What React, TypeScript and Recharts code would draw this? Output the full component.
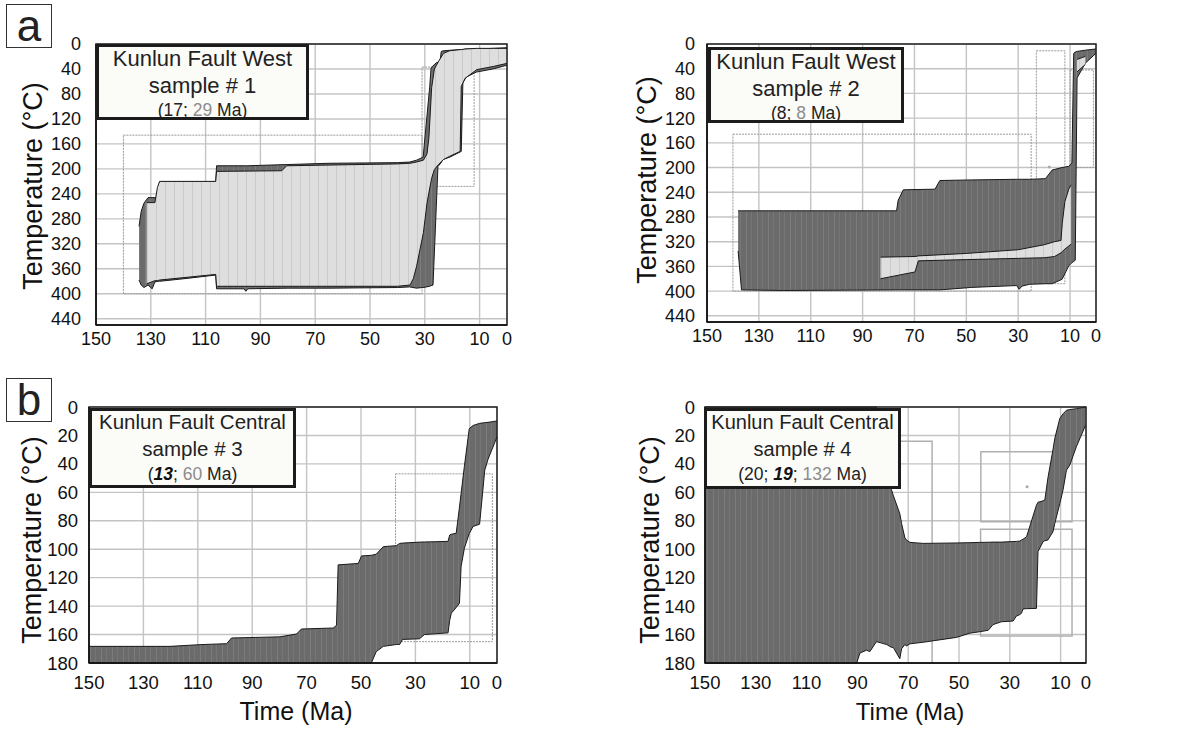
import React from 'react';
import { ComposedChart, Area, XAxis, YAxis, CartesianGrid, ReferenceArea, ReferenceDot } from 'recharts';

// rows are [time (Ma), upper edge (°C), lower edge (°C)]
type Row = [number, number, number];
// boxes are [older Ma, younger Ma, top °C, bottom °C]
type Box = [number, number, number, number];

const FONT = 'Arial, "Liberation Sans", Helvetica, sans-serif';

const timeTicks = [150, 130, 110, 90, 70, 50, 30, 10, 0];
const westTempTicks = [0, 40, 80, 120, 160, 200, 240, 280, 320, 360, 400, 440];
const centralTempTicks = [0, 20, 40, 60, 80, 100, 120, 140, 160, 180];

// sample 1 - acceptable fit envelope
const s1Acceptable: Row[] = [
    [134.3, 292, 378], [133.5, 268, 386], [132.5, 255, 390], [131.0, 246, 386],
    [129.5, 246, 392], [128.5, 246, 381], [127.3, 246, 380], [126.8, 221, 380],
    [116, 221, 375], [106.3, 221, 370], [106.0, 195, 392], [96, 195, 392],
    [95.3, 195, 396], [94.6, 195, 392], [80, 193, 391], [65, 191, 391],
    [40, 190, 390], [35.5, 189, 389], [33, 186, 391], [31, 182, 390],
    [30.6, 181, 390], [28.2, 68, 388], [27.7, 38, 387], [27.0, 35, 386],
    [25.8, 30, 260], [25.2, 29, 196], [24.4, 27, 192], [24.0, 12, 190],
    [23.4, 11, 185], [20.8, 10, 181], [16.7, 9, 172], [16.1, 9, 62],
    [14.9, 8, 53], [11.2, 8, 45], [5.2, 7, 40], [0, 6, 34],
];
// sample 1 - good fit envelope
const s1Good: Row[] = [
    [131.5, 254, 384], [128.5, 254, 379], [127.6, 230, 379], [126.8, 220, 378],
    [106.3, 220, 369], [106.0, 204, 388], [82.2, 203, 388], [80.4, 195, 388],
    [40, 192, 388], [35.4, 191, 386], [34.2, 190, 376], [33, 189, 356],
    [30.5, 186, 302], [29.2, 176, 255], [28.5, 150, 238], [27.5, 70, 215],
    [26.5, 40, 201], [25, 28, 193], [23.2, 15, 185], [21, 11, 180],
    [17.1, 9, 172], [16.7, 9, 68], [15.3, 8, 55], [11, 7, 41],
    [5, 7, 36], [0, 7, 31],
];
const s1Boxes: Box[] = [[140, 31, 146, 400], [31, 12, 37, 228]];

// sample 2
const s2Acceptable: Row[] = [
    [138, 270, 335], [136.7, 270, 398], [120.6, 270, 399], [76.9, 270, 398],
    [76.3, 253, 398], [74.3, 236, 398], [62.1, 235, 398], [60.2, 221, 398],
    [47.9, 220, 394], [30.6, 219, 391], [29.6, 219, 397], [28.6, 219, 392],
    [25.7, 219, 389], [19.5, 218, 388], [16.9, 204, 388], [13.1, 200, 381],
    [10.5, 198, 359], [9.3, 193, 354], [8.6, 15, 352], [8.0, 13, 350],
    [7.3, 12, 55], [4.1, 10, 31], [0, 8, 15],
];
const s2Good: Row[] = [
    [83.1, 345, 380], [69.8, 344, 369], [68.5, 343, 351], [50, 339, 349],
    [30, 333, 347], [20, 325, 346], [16, 320, 344], [13.5, 318, 338],
    [13, 290, 336], [12, 255, 332], [10.5, 235, 327], [9.6, 228, 324],
];
const s2GoodTip: Row[] = [[7.3, 25, 45], [4.1, 20, 33]];
const s2Boxes: Box[] = [[140, 25, 146, 400], [23, 12, 11, 388], [10, 1, 42, 200]];
const s2Points: [number, number][] = [[18, 199]];

// sample 3
const s3Acceptable: Row[] = [
    [150, 168.3, 180], [120.2, 168.3, 180], [109.2, 167.1, 180], [99.4, 166.4, 180],
    [97.6, 162.4, 180], [79.8, 161.6, 180], [73.7, 159.6, 180], [71.9, 156.1, 180],
    [60.2, 155.4, 180], [59, 153.5, 180], [58.4, 111, 180], [51, 110, 180],
    [49.8, 104.7, 180], [46.2, 104.3, 180], [44.4, 103.5, 172], [41.8, 98.2, 168.3],
    [37, 97.5, 167], [35.8, 95.9, 167], [34.7, 95.7, 163.4], [28.5, 95, 163],
    [26.7, 94.9, 160], [18, 94.5, 158.8], [17.4, 90, 150], [16.8, 89.5, 145],
    [15, 88.8, 141], [13.8, 70.4, 137.9], [13.2, 60.8, 112.2], [12, 41.8, 99.3],
    [10.2, 15.2, 89], [8.8, 13, 84], [6.4, 11.5, 82.4], [4.5, 11, 44.4],
    [3.3, 10.8, 36.8], [0, 9.8, 21],
];
const s3Boxes: Box[] = [[37.3, 1.7, 47, 165]];

// sample 4
const s4Acceptable: Row[] = [
    [150, 0, 180], [90.3, 0, 180], [89, 0, 173], [86.4, 0, 171],
    [85.1, 0, 172], [82.5, 0, 165], [80.5, 20, 166], [78.5, 45, 167],
    [76.6, 58, 169], [75.9, 62, 169], [73.3, 75, 177], [72.6, 82, 170],
    [71.3, 92, 167], [70.7, 93.5, 168], [69.3, 95.2, 166.5], [64.1, 95.9, 165.4],
    [51, 95.6, 162], [45.7, 95.4, 159], [41.8, 95.2, 158], [38.5, 95.1, 157],
    [36.6, 95, 153], [33.3, 95, 151], [28.7, 94.6, 150.5], [27.4, 94.5, 147],
    [26.1, 94.3, 146], [25.4, 93.5, 145], [24.8, 93, 142], [23.4, 91.2, 141.8],
    [19.5, 69, 141.6], [18.9, 67, 101.7], [16.9, 66, 94.7], [16.2, 65.4, 94],
    [15, 50, 93.5], [13, 30, 87.7], [12.3, 22.2, 82], [10.3, 8, 67.8],
    [9, 4.7, 58], [7.7, 2.3, 44.4], [6.4, 1.8, 40.9], [3.8, 1.2, 28],
    [0.2, 0, 12.9],
];
const s4Boxes: Box[] = [[150, 60.6, 24, 180], [41.4, 5.5, 31.5, 80.6], [41.5, 5.5, 86, 161]];
const s4Points: [number, number][] = [[23.2, 56]];

const toBand = (rows: Row[]) => rows.map(([t, upper, lower]) => ({ t, band: [upper, lower] }));

interface Band {
    rows: Row[];
    kind: 'dark' | 'light';
}

interface PanelProps {
    id: string;
    left: number;
    top: number;
    width: number;
    height: number;
    marginTop: number;
    marginRight: number;
    yWidth: number;
    xHeight: number;
    yMax: number;
    yTicks: number[];
    fontSize: number;
    yTickMargin: number;
    xTickMargin: number;
    bands: Band[];
    boxes: Box[];
    boxDotted: boolean;
    points?: [number, number][];
}

function Panel(p: PanelProps) {
    const tick = { fontSize: p.fontSize, fill: '#111', fontFamily: FONT };
    return (
        <div style={{ position: 'absolute', left: p.left, top: p.top }}>
            <ComposedChart
                width={p.width}
                height={p.height}
                margin={{ top: p.marginTop, right: p.marginRight, bottom: 0, left: 0 }}
            >
                <defs>
                    <pattern id={`dark-${p.id}`} width="11" height="8" patternUnits="userSpaceOnUse">
                        <rect width="11" height="8" fill="#6b6b6b" />
                        <rect x="2" width="1" height="8" fill="#7c7c7c" />
                        <rect x="7" width="1" height="8" fill="#767676" />
                    </pattern>
                    <pattern id={`light-${p.id}`} width="9" height="8" patternUnits="userSpaceOnUse">
                        <rect width="9" height="8" fill="#dedede" />
                        <rect x="3" width="1" height="8" fill="#cacaca" />
                    </pattern>
                </defs>
                <CartesianGrid stroke="#c4c4c4" strokeWidth={1.4} />
                <XAxis
                    dataKey="t"
                    type="number"
                    domain={[0, 150]}
                    reversed
                    ticks={timeTicks}
                    interval={0}
                    height={p.xHeight}
                    tickSize={4}
                    tickLine={false}
                    tickMargin={p.xTickMargin}
                    axisLine={{ stroke: '#111', strokeWidth: 1.5 }}
                    tick={tick}
                />
                <YAxis
                    type="number"
                    domain={[0, p.yMax]}
                    reversed
                    ticks={p.yTicks}
                    interval={0}
                    width={p.yWidth}
                    tickSize={4}
                    tickLine={false}
                    tickMargin={p.yTickMargin}
                    axisLine={{ stroke: '#111', strokeWidth: 1.5 }}
                    tick={tick}
                />
                {p.boxes.map(([x1, x2, y1, y2], i) => (
                    <ReferenceArea
                        key={`box-${i}`}
                        x1={x1}
                        x2={x2}
                        y1={y1}
                        y2={y2}
                        fill="none"
                        fillOpacity={0}
                        stroke={p.boxDotted ? '#9a9a9a' : '#b0b0b0'}
                        strokeWidth={p.boxDotted ? 1 : 1.5}
                        strokeDasharray={p.boxDotted ? '2 1' : undefined}
                    />
                ))}
                {(p.points || []).map(([x, y], i) => (
                    <ReferenceDot key={`pt-${i}`} x={x} y={y} r={1.5} fill="#aaaaaa" stroke="none" />
                ))}
                {p.bands.map((b, i) => (
                    <Area
                        key={`band-${i}`}
                        data={toBand(b.rows)}
                        dataKey="band"
                        type="linear"
                        fill={`url(#${b.kind}-${p.id})`}
                        fillOpacity={1}
                        stroke="#1a1a1a"
                        strokeWidth={1}
                        dot={false}
                        activeDot={false}
                        isAnimationActive={false}
                    />
                ))}
                <ReferenceArea
                    x1={150}
                    x2={0}
                    y1={0}
                    y2={p.yMax}
                    fill="none"
                    fillOpacity={0}
                    stroke="#222"
                    strokeWidth={1.5}
                />
            </ComposedChart>
        </div>
    );
}

interface InfoProps {
    left: number;
    top: number;
    width: number;
    height: number;
    title: string;
    sample: string;
    size: number;
    children: React.ReactNode;
}

function InfoBox({ left, top, width, height, title, sample, size, children }: InfoProps) {
    const line: React.CSSProperties = {
        position: 'absolute',
        left: 0,
        width: '100%',
        textAlign: 'center',
        lineHeight: 1,
        whiteSpace: 'nowrap',
        color: '#222',
    };
    return (
        <div style={{ position: 'absolute', left, top, width, height, background: '#fbfbf8' }}>
            <div style={{ ...line, top: 4, fontSize: size }}>{title}</div>
            <div style={{ ...line, top: 31, fontSize: size }}>{sample}</div>
            <div style={{ ...line, top: 58, fontSize: 17.5 }}>{children}</div>
            <div
                style={{
                    position: 'absolute',
                    inset: 0,
                    border: '3px solid #1c1c1c',
                }}
            />
        </div>
    );
}

const grey = { color: '#8c8c8c' };
const strong: React.CSSProperties = { fontWeight: 700, fontStyle: 'italic', color: '#111' };

function YTitle({ x, y }: { x: number; y: number }) {
    return (
        <div
            style={{
                position: 'absolute',
                left: x,
                top: y,
                transform: 'translate(-50%, -50%) rotate(-90deg)',
                fontSize: 27,
                lineHeight: 1,
                whiteSpace: 'nowrap',
                color: '#111',
            }}
        >
            Temperature (°C)
        </div>
    );
}

function XTitle({ x, y, size }: { x: number; y: number; size: number }) {
    return (
        <div
            style={{
                position: 'absolute',
                left: x,
                top: y,
                transform: 'translateX(-50%)',
                fontSize: size,
                lineHeight: 1,
                whiteSpace: 'nowrap',
                color: '#111',
            }}
        >
            Time (Ma)
        </div>
    );
}

function Tag({ top, letter }: { top: number; letter: string }) {
    return (
        <div
            style={{
                position: 'absolute',
                left: 6,
                top,
                width: 46,
                height: 44,
                boxSizing: 'border-box',
                border: '1.5px solid #333',
                background: '#fff',
            }}
        >
            <div
                style={{
                    position: 'absolute',
                    left: 0,
                    top: 0,
                    width: '100%',
                    fontSize: 44,
                    lineHeight: '41px',
                    textAlign: 'center',
                    color: '#222',
                }}
            >
                {letter}
            </div>
        </div>
    );
}

export default function App() {
    return (
        <div
            style={{
                position: 'absolute',
                left: 0,
                top: 0,
                width: 1177,
                height: 730,
                background: '#fff',
                fontFamily: FONT,
                overflow: 'hidden',
            }}
        >
            <Panel
                id="s1"
                left={0}
                top={0}
                width={520}
                height={360}
                marginTop={44}
                marginRight={13}
                yWidth={96}
                xHeight={35}
                yMax={450}
                yTicks={westTempTicks}
                fontSize={18}
                yTickMargin={11}
                xTickMargin={3}
                bands={[
                    { rows: s1Acceptable, kind: 'dark' },
                    { rows: s1Good, kind: 'light' },
                ]}
                boxes={s1Boxes}
                boxDotted
            />
            <Panel
                id="s2"
                left={590}
                top={0}
                width={516}
                height={360}
                marginTop={44}
                marginRight={10}
                yWidth={117}
                xHeight={38}
                yMax={450}
                yTicks={westTempTicks}
                fontSize={18}
                yTickMargin={8}
                xTickMargin={3}
                bands={[
                    { rows: s2Acceptable, kind: 'dark' },
                    { rows: s2Good, kind: 'light' },
                    { rows: s2GoodTip, kind: 'light' },
                ]}
                boxes={s2Boxes}
                boxDotted
                points={s2Points}
            />
            <Panel
                id="s3"
                left={0}
                top={380}
                width={510}
                height={320}
                marginTop={27}
                marginRight={13}
                yWidth={89}
                xHeight={37}
                yMax={180}
                yTicks={centralTempTicks}
                fontSize={18.5}
                yTickMargin={7}
                xTickMargin={9}
                bands={[{ rows: s3Acceptable, kind: 'dark' }]}
                boxes={s3Boxes}
                boxDotted
            />
            <Panel
                id="s4"
                left={590}
                top={380}
                width={506}
                height={320}
                marginTop={27}
                marginRight={10}
                yWidth={115}
                xHeight={37}
                yMax={180}
                yTicks={centralTempTicks}
                fontSize={18.5}
                yTickMargin={6}
                xTickMargin={9}
                bands={[{ rows: s4Acceptable, kind: 'dark' }]}
                boxes={s4Boxes}
                boxDotted={false}
                points={s4Points}
            />

            <InfoBox left={96} top={44} width={213} height={76} size={22} title="Kunlun Fault West" sample="sample # 1">
                (17; <span style={grey}>29</span> Ma)
            </InfoBox>
            <InfoBox left={708} top={47} width={196} height={76} size={22} title="Kunlun Fault West" sample="sample # 2">
                (8; <span style={grey}>8</span> Ma)
            </InfoBox>
            <InfoBox left={89} top={408} width={207} height={80} size={20.5} title="Kunlun Fault Central" sample="sample # 3">
                (<span style={strong}>13</span>; <span style={grey}>60</span> Ma)
            </InfoBox>
            <InfoBox left={704} top={408} width={197} height={81} size={20} title="Kunlun Fault Central" sample="sample # 4">
                (20; <span style={strong}>19</span>; <span style={grey}>132</span> Ma)
            </InfoBox>

            <YTitle x={33} y={186} />
            <YTitle x={647} y={180} />
            <YTitle x={32} y={540} />
            <YTitle x={650} y={540} />
            <XTitle x={296} y={699} size={25} />
            <XTitle x={910} y={700} size={24} />

            <Tag top={4} letter="a" />
            <Tag top={378} letter="b" />
        </div>
    );
}
